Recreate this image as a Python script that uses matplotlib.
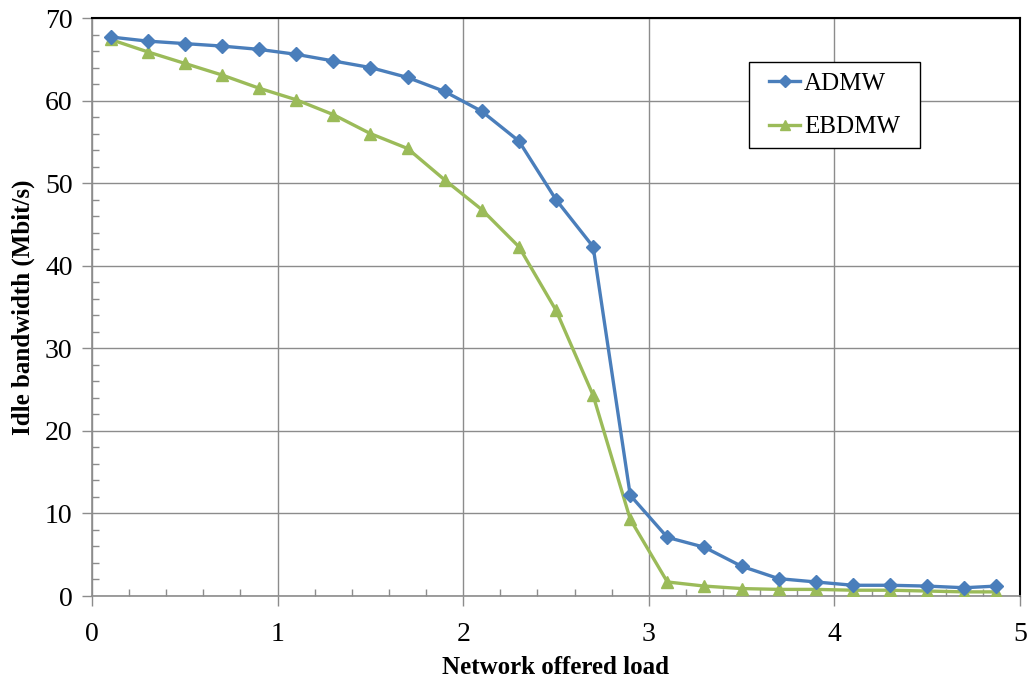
import matplotlib
matplotlib.use("Agg")
import matplotlib.pyplot as plt
from matplotlib.ticker import MultipleLocator
from matplotlib.patches import Rectangle

x = [0.1, 0.3, 0.5, 0.7, 0.9, 1.1, 1.3, 1.5, 1.7, 1.9, 2.1, 2.3, 2.5, 2.7, 2.9,
     3.1, 3.3, 3.5, 3.7, 3.9, 4.1, 4.3, 4.5, 4.7, 4.87]
admw = [67.7, 67.2, 66.9, 66.6, 66.2, 65.6, 64.8, 64.0, 62.8, 61.1, 58.7, 55.1,
        48.0, 42.3, 12.2, 7.1, 5.9, 3.6, 2.1, 1.7, 1.3, 1.3, 1.2, 1.0, 1.2]
ebdmw = [67.4, 65.9, 64.5, 63.1, 61.5, 60.1, 58.3, 56.0, 54.2, 50.4, 46.8, 42.3,
         34.6, 24.3, 9.3, 1.7, 1.2, 0.9, 0.8, 0.8, 0.7, 0.7, 0.6, 0.5, 0.5]
series_names = ["ADMW", "EBDMW"]
xlabel = "Network offered load"
ylabel = "Idle bandwidth (Mbit/s)"

plt.rcParams['font.family'] = ['Liberation Serif', 'DejaVu Serif']

W, H = 1033, 684
L, R, T, B = 92, 1020, 18, 596
fig = plt.figure(figsize=(W/100, H/100), dpi=100)
ax = fig.add_axes([L/W, 1-B/H, (R-L)/W, (B-T)/H])

def ax_xy(px, py):
    return ((px - L) / (R - L), (B - py) / (B - T))

grid_c = '#8c8c8c'
ax.plot(x, admw, color='#4a7ebb', lw=2.4, marker='D', ms=7.5, label=series_names[0], zorder=4)
ax.plot(x, ebdmw, color='#9bbb59', lw=2.4, marker='^', ms=9, label=series_names[1], zorder=3)

ax.set_xlim(0, 5)
ax.set_ylim(0, 70)
ax.xaxis.set_major_locator(MultipleLocator(1))
ax.xaxis.set_minor_locator(MultipleLocator(0.2))
ax.yaxis.set_major_locator(MultipleLocator(10))
ax.yaxis.set_minor_locator(MultipleLocator(2))
ax.grid(which='major', color=grid_c, lw=1.0)
ax.set_axisbelow(True)

for s in ['left', 'bottom']:
    ax.spines[s].set_color(grid_c)
    ax.spines[s].set_linewidth(1.2)
for s in ['top', 'right']:
    ax.spines[s].set_color('black')
    ax.spines[s].set_linewidth(1.5)

ax.tick_params(which='major', direction='out', length=7, color=grid_c, width=1,
               labelsize=20, pad=7)
ax.tick_params(which='minor', direction='in', length=5, color=grid_c, width=1)
ax.tick_params(axis='x', which='major', pad=12)

ax.set_xlabel(xlabel, fontsize=18, fontweight='bold', labelpad=6)
ax.set_ylabel(ylabel, fontsize=18, fontweight='bold', labelpad=7)

# legend box
x0, y0 = ax_xy(749, 148)
x1, y1 = ax_xy(920, 62)
box = Rectangle((x0, y0), x1 - x0, y1 - y0, transform=ax.transAxes,
                facecolor='white', edgecolor='black', lw=1.0, zorder=5)
ax.add_patch(box)

leg = ax.legend(loc='center left', fontsize=18, frameon=False,
                borderpad=0, labelspacing=0.83, handlelength=1.25, handletextpad=0.15,
                borderaxespad=0, markerscale=0.85)
leg.set_bbox_to_anchor(ax_xy(769, 105.5), transform=ax.transAxes)
leg.set_zorder(6)

fig.savefig('out.png', dpi=100)
